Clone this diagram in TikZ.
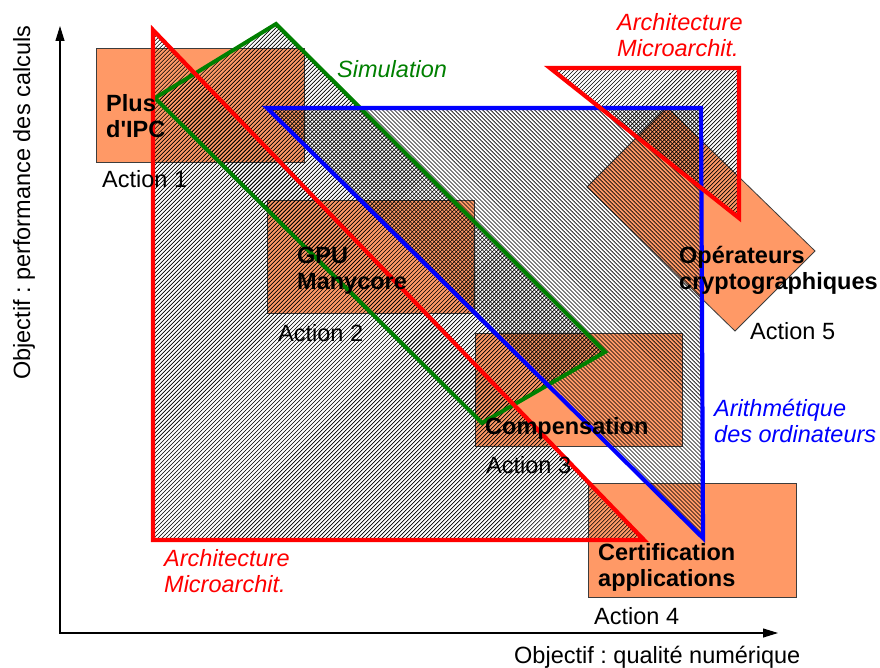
\documentclass[tikz,border=0pt]{standalone}
\usepackage{fontspec}
\setmainfont{Liberation Sans}
\usetikzlibrary{patterns.meta,arrows.meta}
\definecolor{rectfill}{RGB}{255,153,102}
\definecolor{rectline}{RGB}{60,60,60}
\definecolor{myred}{RGB}{255,0,0}
\definecolor{mygreen}{RGB}{0,128,0}
\definecolor{myblue}{RGB}{0,0,255}
\newcommand\twol[2]{\vtop{\baselineskip=26pt\hbox{#1}\hbox{#2}}}
\frenchspacing
\begin{document}
\begin{tikzpicture}[x=1pt,y=-1pt,
  lbl/.style={anchor=base west,inner sep=0pt,font=\fontsize{23.5}{26}\selectfont},
  boldlbl/.style={lbl,font=\fontsize{23.5}{26}\selectfont\bfseries},
  italbl/.style={lbl,font=\fontsize{23.5}{26}\selectfont\itshape},
  actbox/.style={fill=rectfill,draw=rectline,line width=0.8pt},
  hatchne/.style={pattern={Lines[angle=45,distance=2.83pt,line width=0.65pt]}},
  hatchnw/.style={pattern={Lines[angle=-45,distance=2.83pt,line width=0.65pt]}},
  redline/.style={draw=myred,line width=4.2pt,line join=miter},
  greenline/.style={draw=mygreen,line width=4pt,line join=miter},
  blueline/.style={draw=myblue,line width=4.2pt,line join=miter},
  axis/.style={draw=black,line width=1.1pt,{Triangle[length=15pt,width=9pt]}-{Triangle[length=15pt,width=9pt]}}
]
\fill[white] (0,0) rectangle (880,668);
\useasboundingbox (0,0) rectangle (880,668);

% action boxes
\draw[actbox] (96,48) rectangle (304,162);
\draw[actbox] (267,200) rectangle (474,313);
\draw[actbox] (475,333) rectangle (682,446);
\draw[actbox] (588,483) rectangle (796,597);
\draw[actbox] (667,107) -- (815,251) -- (735,331) -- (587,187) -- cycle;

% hatched regions
\fill[hatchne] (153,30) -- (153,540) -- (644,540) -- cycle;
\fill[hatchne] (155,98) -- (276,24) -- (605,352) -- (482,423) -- cycle;
\fill[hatchnw] (267,108) -- (701,108) -- (703,538) -- cycle;
\fill[hatchne] (550,68) -- (739,68) -- (739,218) -- cycle;

% outlines
\draw[greenline] (155,98) -- (276,24) -- (605,352) -- (482,423) -- cycle;
\draw[blueline] (267,108) -- (701,108) -- (703,538) -- cycle;
\draw[redline] (153,30) -- (153,540) -- (644,540) -- cycle;
\draw[redline] (550,68) -- (739,68) -- (739,218) -- cycle;

% axes
\coordinate (ytip) at (60,26);
\coordinate (orig) at (60,633);
\coordinate (xtip) at (778,633);
\draw[axis] (ytip) -- (orig) -- (xtip);

% texts
\node[boldlbl] (t1) at (106,112) {\twol{Plus}{d\textquotesingle IPC}};
\node[lbl] (a1) at (102,188) {Action 1};
\node[boldlbl] (t2) at (297,263) {\twol{GPU}{Manycore}};
\node[lbl] (a2) at (278,341) {Action 2};
\node[boldlbl] (t3) at (485,434) {Compensation};
\node[lbl] (a3) at (486,473) {Action 3};
\node[boldlbl] (t4) at (598,560) {\twol{Certification}{applications}};
\node[lbl] (a4) at (594,624) {Action 4};
\node[boldlbl] (t5) at (679,263) {\twol{Opérateurs}{cryptographiques}};
\node[lbl] (a5) at (750,339) {Action 5};
\node[italbl,text=mygreen] (sim) at (337,78) {Simulation};
\node[italbl,text=myred] (arch1) at (617,31) {\twol{Architecture}{Microarchit.}};
\node[italbl,text=myblue] (arith) at (714,416) {\twol{Arithmétique}{des ordinateurs}};
\node[italbl,text=myred] (arch2) at (164,566) {\twol{Architecture}{Microarchit.}};
\node[lbl] (xlab) at (514,663) {Objectif : qualité numérique};
\node[lbl,rotate=90] (ylab) at (30,380) {Objectif : performance des calculs};
\end{tikzpicture}
\end{document}
